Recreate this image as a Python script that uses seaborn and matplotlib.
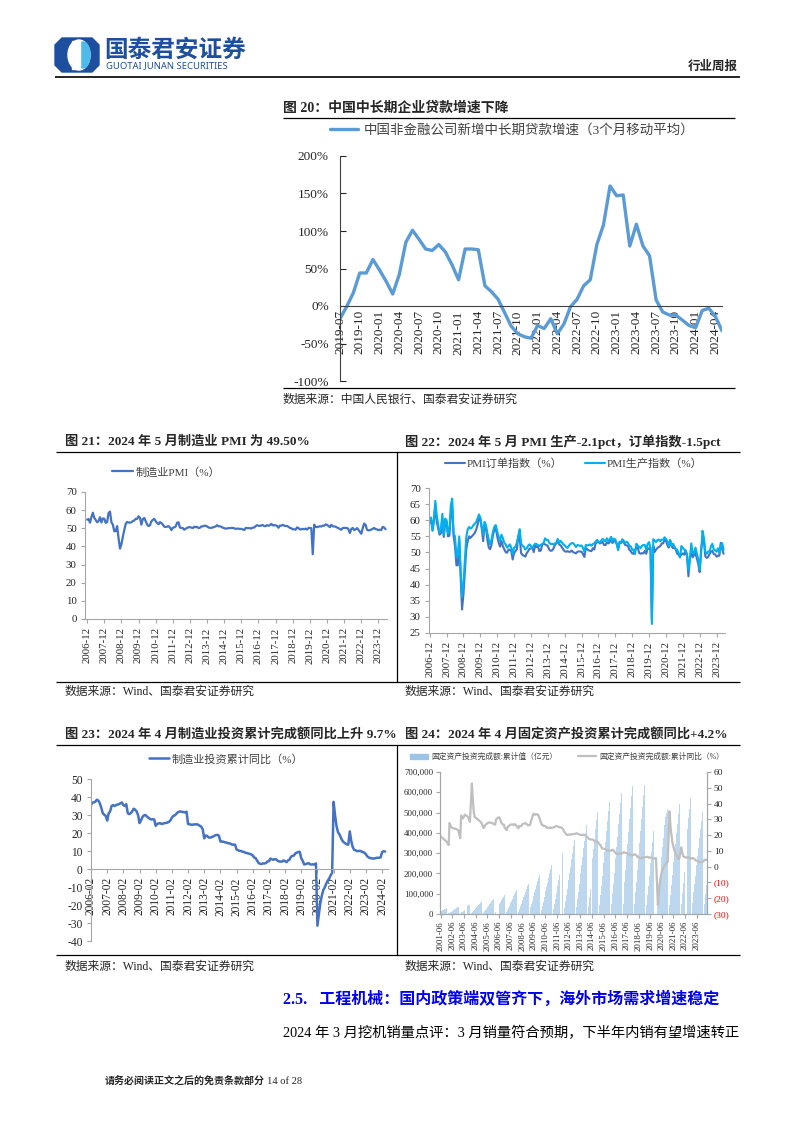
import numpy as np
import pandas as pd
import matplotlib
matplotlib.use('Agg')
import matplotlib.pyplot as plt
import matplotlib.patches as mpatches
from matplotlib.lines import Line2D
import seaborn as sns

sns.set_style('ticks')
plt.rcParams['font.family'] = ['Liberation Serif', 'Noto Sans CJK SC']
plt.rcParams['axes.unicode_minus'] = False

# ---- figure 20: medium/long term loan growth (3m moving avg), 2019-07 .. 2024-05
loan_months = [f'{y}-{m:02d}' for y in range(2019, 2025) for m in range(1, 13)][6:65]
loan_growth = [-17, -1, 17, 44, 44, 62, 48, 33, 16, 42, 85, 101, 89, 76, 74, 82, 72, 55,
               35, 76, 76, 75, 27, 19, 9, -9, -27, -37, -41, -43, -26, -30, -17, -37,
               -24, -1, 9, 27, 35, 82, 108, 160, 147, 148, 80, 109, 80, 67, 8, -8, -12,
               -12, -19, -26, -29, -6, -3, -14, -33]

# ---- figure 21/22: PMI, 2006-12 .. 2024-05
pmi_years = [f'{y}-12' for y in range(2006, 2024)]
pmi = [54.8,
       55.1, 53.1, 56.1, 58.6, 55.8, 54.5, 53.3, 54.0, 56.1, 53.2, 55.4, 55.3,
       53.0, 53.4, 58.4, 59.2, 53.3, 52.0, 48.4, 48.4, 51.2, 44.6, 38.8, 41.2,
       45.3, 49.0, 52.4, 53.5, 53.1, 53.2, 53.3, 54.0, 54.3, 55.2, 55.2, 56.6,
       55.8, 52.0, 55.1, 55.7, 53.9, 52.1, 51.2, 51.7, 53.8, 54.7, 55.2, 53.9,
       52.9, 52.2, 53.4, 52.9, 52.0, 50.9, 50.7, 50.9, 51.2, 50.4, 49.0, 50.3,
       50.5, 51.0, 53.1, 53.3, 50.4, 50.2, 50.1, 49.2, 49.8, 50.2, 50.6, 50.6,
       50.4, 50.1, 50.9, 50.6, 50.8, 50.1, 50.3, 51.0, 51.1, 51.4, 51.4, 51.0,
       50.5, 50.2, 50.3, 50.4, 50.8, 51.0, 51.7, 51.1, 51.1, 50.8, 50.3, 50.1,
       49.8, 49.9, 50.1, 50.1, 50.2, 50.2, 50.0, 49.7, 49.8, 49.8, 49.6, 49.7,
       49.4, 49.0, 50.2, 50.1, 50.1, 50.0, 49.9, 50.4, 50.4, 51.2, 51.7, 51.4,
       51.3, 51.6, 51.8, 51.2, 51.2, 51.7, 51.4, 51.7, 52.4, 51.6, 51.8, 51.6,
       51.3, 50.3, 51.5, 51.4, 51.9, 51.5, 51.2, 51.3, 50.8, 50.2, 50.0, 49.4,
       49.5, 49.2, 50.5, 50.1, 49.4, 49.4, 49.7, 49.5, 49.8, 49.3, 50.2, 50.2,
       50.0, 35.7, 52.0, 50.8, 50.6, 50.9, 51.1, 51.0, 51.5, 51.4, 52.1, 51.9,
       51.3, 50.6, 51.9, 51.1, 51.0, 50.9, 50.4, 50.1, 49.6, 49.2, 50.1, 50.3,
       50.1, 50.2, 49.5, 47.4, 49.6, 50.2, 49.0, 49.4, 50.1, 49.2, 48.0, 47.0,
       50.1, 52.6, 51.9, 49.2, 48.8, 49.0, 49.3, 49.7, 50.2, 49.5, 49.4, 49.0,
       49.2, 49.1, 50.8, 50.4, 49.5]
pmi_orders = [59.2,
              60.0, 56.8, 59.8, 64.5, 59.5, 57.5, 55.5, 56.0, 60.5, 54.8, 59.0, 59.5,
              55.0, 55.2, 62.0, 64.0, 55.0, 52.0, 46.0, 46.0, 54.0, 42.5, 32.3, 37.0,
              44.0, 51.0, 53.5, 55.0, 54.5, 55.0, 55.5, 56.0, 57.0, 58.5, 60.5, 60.5,
              57.5, 53.5, 58.5, 57.5, 54.0, 51.5, 51.0, 52.5, 55.5, 57.0, 57.5, 55.0,
              53.1, 51.8, 53.6, 52.0, 51.0, 50.1, 49.9, 50.9, 50.8, 50.5, 47.8, 49.8,
              50.4, 51.0, 55.1, 54.5, 49.8, 49.2, 49.0, 48.7, 49.8, 50.4, 51.2, 51.2,
              51.6, 50.1, 52.3, 51.7, 51.8, 50.4, 50.6, 52.4, 52.8, 52.5, 52.3, 52.0,
              50.9, 50.5, 50.6, 51.2, 52.3, 52.8, 53.6, 52.5, 52.2, 51.6, 50.9, 50.4,
              50.2, 50.4, 50.2, 50.2, 50.6, 50.1, 49.9, 49.7, 50.2, 50.3, 50.3, 50.2,
              49.5, 48.6, 51.4, 51.0, 50.7, 50.5, 50.4, 51.3, 50.9, 52.8, 53.2, 53.2,
              52.8, 53.0, 53.3, 52.3, 52.3, 53.1, 52.8, 53.1, 54.8, 52.9, 53.6, 53.4,
              52.6, 51.0, 53.3, 52.9, 53.8, 53.2, 52.3, 52.2, 52.0, 50.8, 50.4, 49.7,
              49.6, 50.6, 51.6, 51.4, 49.8, 49.6, 49.8, 49.7, 50.5, 49.6, 51.3, 51.2,
              51.4, 29.3, 52.0, 50.2, 50.9, 51.4, 51.7, 52.0, 52.8, 52.8, 53.9, 53.6,
              52.3, 51.5, 53.6, 52.0, 51.3, 51.5, 50.9, 49.6, 49.3, 48.8, 49.4, 49.7,
              49.3, 50.7, 48.8, 42.6, 48.2, 50.4, 48.5, 49.2, 49.8, 48.1, 46.4, 43.9,
              50.9, 54.1, 53.6, 48.8, 48.3, 48.6, 49.5, 50.2, 50.5, 49.5, 49.4, 48.7,
              49.0, 49.0, 53.0, 51.1, 49.6]
pmi_output = [60.7,
              60.8, 56.8, 60.5, 66.0, 61.5, 58.7, 56.0, 57.4, 62.0, 55.3, 60.5, 60.0,
              55.8, 56.8, 64.6, 66.7, 55.8, 55.0, 48.6, 49.0, 55.0, 44.4, 36.2, 40.3,
              47.5, 54.8, 57.1, 57.9, 57.4, 57.7, 58.4, 58.9, 59.4, 60.5, 61.8, 60.8,
              58.0, 55.5, 59.5, 58.5, 56.0, 54.0, 52.5, 54.0, 56.5, 58.0, 58.5, 56.5,
              55.0, 53.5, 55.5, 54.5, 53.0, 52.5, 51.5, 52.0, 52.5, 51.5, 49.5, 51.5,
              51.8, 53.0, 55.2, 57.2, 52.9, 52.0, 51.8, 50.9, 51.3, 52.1, 52.5, 52.0,
              51.3, 52.2, 52.7, 52.6, 52.3, 52.0, 52.4, 52.6, 52.9, 54.4, 53.9, 53.9,
              53.0, 52.6, 52.7, 52.5, 52.8, 53.0, 54.2, 52.8, 53.6, 53.1, 52.5, 52.2,
              51.7, 51.4, 52.1, 52.6, 52.9, 52.9, 52.4, 51.7, 52.3, 52.2, 52.0, 52.2,
              51.4, 50.2, 52.3, 52.2, 52.3, 52.5, 52.1, 52.6, 52.8, 53.3, 53.9, 53.3,
              53.1, 53.7, 54.2, 53.8, 53.4, 54.4, 53.5, 54.1, 54.7, 53.4, 54.3, 54.0,
              52.8, 50.7, 53.1, 53.1, 54.1, 53.6, 53.0, 53.3, 53.0, 52.0, 51.9, 50.8,
              50.9, 49.5, 52.7, 52.1, 51.7, 51.3, 52.1, 52.3, 52.3, 50.8, 52.6, 53.2,
              51.3, 27.8, 54.1, 53.7, 53.2, 53.9, 54.0, 53.5, 54.0, 53.9, 54.7, 54.2,
              53.5, 51.9, 53.9, 52.2, 52.7, 51.9, 51.0, 50.9, 49.5, 48.4, 52.0, 51.4,
              50.9, 50.4, 49.5, 44.4, 47.7, 52.8, 49.8, 49.8, 51.5, 49.6, 47.8, 44.6,
              49.8, 56.7, 54.6, 50.2, 49.6, 50.3, 50.2, 51.9, 52.7, 50.9, 50.7, 50.2,
              51.3, 49.8, 52.2, 52.9, 50.8]

# ---- figure 23: manufacturing investment, cumulative yoy, Feb..Dec each year, 2006-02 .. 2024-04
mfg_years = [f'{y}-02' for y in range(2006, 2025)]
mfg_inv = [35.5, 36.9, 37.0, 37.5, 38.5, 38.0, 36.5, 34.0, 31.0, 30.2, 29.5,
           26.9, 30.9, 32.0, 35.0, 35.5, 35.0, 35.5, 35.8, 36.0, 36.5, 37.0,
           35.5, 35.0, 36.0, 31.0, 30.5, 31.0, 32.0, 33.5, 33.0, 32.0, 30.0,
           25.5, 27.0, 28.9, 29.8, 30.0, 29.2, 28.5, 27.9, 27.5, 27.7, 27.5,
           24.0, 25.0, 25.3, 25.5, 25.0, 25.2, 25.5, 25.6, 25.8, 26.2, 27.0,
           28.5, 29.5, 29.8, 30.6, 31.5, 31.8, 32.0, 31.7, 31.6, 31.5, 31.8,
           25.0, 24.9, 24.6, 24.6, 24.8, 24.7, 24.9, 24.5, 24.0, 23.5, 22.0,
           17.0, 18.6, 18.4, 17.5, 17.4, 17.7, 18.0, 18.5, 18.8, 19.0, 18.5,
           15.3, 15.2, 15.2, 14.8, 14.8, 14.3, 14.3, 14.0, 13.5, 13.6, 13.5,
           10.8, 10.4, 10.1, 10.0, 9.6, 9.5, 9.0, 8.9, 8.6, 8.4, 8.1,
           7.5, 6.4, 6.0, 4.6, 3.3, 2.9, 2.8, 3.1, 3.1, 3.3, 4.2,
           4.3, 5.8, 5.4, 5.1, 5.5, 5.3, 4.5, 4.2, 4.1, 4.1, 4.8,
           4.3, 3.8, 4.8, 5.2, 6.8, 7.3, 7.5, 8.7, 9.1, 9.5, 9.5,
           5.9, 4.6, 2.5, 2.7, 3.0, 3.3, 2.6, 2.5, 2.6, 2.5, 3.1,
           -31.5, -25.2, -18.8, -14.8, -11.7, -10.2, -8.1, -6.5, -5.3, -3.5, -2.2,
           37.3, 29.8, 23.8, 20.4, 19.2, 17.3, 15.7, 14.8, 14.2, 13.7, 13.5,
           20.9, 15.6, 12.2, 10.6, 10.4, 9.9, 10.0, 10.1, 9.7, 9.3, 9.1,
           8.1, 7.0, 6.4, 6.0, 6.0, 5.7, 5.9, 6.2, 6.2, 6.3, 6.5,
           9.4, 9.9, 9.7]

# ---- figure 24: fixed asset investment, cumulative value (100m yuan) and yoy (%)
fai_value = [12900, 15400, 17900, 20700, 23200, 25800, 28000,
             2800, 6000, 8900, 12100, 16300, 19500, 22700, 26300, 29500, 32700, 35500,
             3700, 7800, 11500, 15600, 21100, 25200, 29300, 33900, 38000, 42100, 45800,
             4700, 10000, 14800, 20100, 27200, 32500, 37800, 43700, 49000, 54300, 59000,
             6000, 12800, 18800, 25500, 34500, 41300, 48100, 55600, 62300, 69100, 75100,
             7500, 15900, 23300, 31700, 42900, 51400, 59800, 69100, 77500, 85900, 93400,
             9400, 20000, 29400, 39900, 54000, 64600, 75200, 86900, 97500, 108100, 117500,
             11900, 25300, 37200, 50600, 68400, 81800, 95200, 110100, 123500, 136800, 148700,
             15500, 33000, 48500, 66000, 89300, 106800, 124200, 143700, 161100, 178600, 194100,
             19300, 41000, 60400, 82100, 111100, 132800, 154500, 178600, 200400, 222100, 241400,
             24200, 51300, 75500, 102700, 138900, 166100, 193200, 223400, 250600, 277800, 301900,
             29200, 62000, 91200, 124000, 167800, 200700, 233500, 270000, 302800, 335600, 364800,
             34900, 74200, 109100, 148400, 200800, 240100, 279400, 323000, 362300, 401600, 436500,
             40200, 85300, 125500, 170700, 230900, 276100, 321300, 371500, 416700, 461800, 502000,
             44100, 93800, 137900, 187500, 253700, 303400, 353000, 408200, 457800, 507500, 551600,
             47700, 101400, 149100, 202800, 274400, 328100, 381800, 441400, 495100, 548800, 596500,
             50500, 107400, 157900, 214800, 290600, 347400, 404300, 467400, 524300, 581100, 631700,
             50900, 108100, 158900, 216100, 292400, 349600, 406800, 470400, 527600, 584800, 635600,
             44100, 93800, 137900, 187500, 253700, 303300, 352900, 408100, 457700, 507400, 551500,
             33300, 84100, 136800, 199200, 281600, 329200, 375300, 436500, 479300, 499800, 518900,
             45200, 95900, 143500, 193900, 255900, 302800, 346900, 397800, 445100, 494100, 544500,
             50800, 104900, 153500, 206000, 271400, 320000, 367000, 421400, 471500, 520000, 572100,
             53600, 107000, 147500, 188800, 243100, 285900, 327000, 375000, 419400, 460800, 503000,
             50800, 100000, 143400]
fai_yoy = [19.0, 18.6, 18.0, 17.5, 17.0, 16.4, 15.8,
           13.7, 27.6, 26.0, 25.0, 24.5, 24.3, 24.2, 24.0, 23.8, 23.5, 23.0,
           18.0, 32.5, 31.0, 30.5, 32.0, 33.0, 32.5, 32.0, 31.5, 30.0, 28.4,
           52.7, 43.0, 34.5, 31.5, 31.0, 30.5, 30.0, 29.5, 29.0, 28.4, 27.6,
           24.5, 25.3, 26.5, 27.0, 27.5, 27.8, 28.0, 28.0, 27.8, 27.7, 27.2,
           26.6, 29.8, 30.5, 31.0, 31.3, 30.5, 28.4, 27.3, 26.8, 26.6, 24.5,
           23.2, 25.3, 25.5, 26.3, 26.7, 26.7, 26.7, 26.4, 26.9, 26.8, 25.8,
           24.3, 25.9, 25.7, 25.6, 26.8, 27.3, 27.4, 27.6, 27.2, 26.8, 26.1,
           26.5, 28.8, 30.5, 32.9, 33.6, 32.9, 33.0, 33.3, 33.1, 32.1, 30.5,
           26.6, 26.4, 25.8, 25.9, 25.5, 24.9, 24.8, 24.5, 24.4, 24.9, 24.5,
           24.9, 25.0, 25.4, 25.8, 25.6, 25.4, 25.0, 24.9, 24.9, 24.5, 23.8,
           21.5, 20.9, 20.2, 20.1, 20.4, 20.4, 20.2, 20.5, 20.7, 20.7, 20.6,
           21.2, 20.9, 20.6, 20.4, 20.1, 20.1, 20.3, 20.2, 20.1, 19.9, 19.6,
           17.9, 17.6, 17.3, 17.2, 17.3, 17.0, 16.5, 16.1, 15.9, 15.8, 15.7,
           13.9, 13.5, 12.0, 11.4, 11.4, 11.2, 10.9, 10.3, 10.2, 10.2, 10.0,
           10.2, 10.7, 10.5, 9.6, 9.0, 8.1, 8.1, 8.2, 8.3, 8.3, 8.1,
           8.9, 9.2, 8.9, 8.6, 8.6, 8.3, 7.8, 7.5, 7.3, 7.2, 7.2,
           7.9, 7.5, 7.0, 6.1, 6.0, 5.5, 5.3, 5.4, 5.7, 5.9, 5.9,
           6.1, 6.3, 6.1, 5.6, 5.8, 5.7, 5.5, 5.4, 5.2, 5.2, 5.4,
           -24.5, -16.1, -10.3, -6.3, -3.1, -1.6, -0.3, 0.8, 1.8, 2.6, 2.9,
           35.0, 25.6, 19.9, 15.4, 12.6, 10.3, 8.9, 7.3, 6.1, 5.2, 4.9,
           12.2, 9.3, 6.8, 6.2, 6.1, 5.7, 5.8, 5.9, 5.8, 5.3, 5.1,
           5.5, 5.1, 4.7, 4.0, 3.8, 3.4, 3.2, 3.1, 2.9, 2.9, 3.0,
           4.2, 4.5, 4.2]
fai_dates = ([pd.Timestamp(2001, m, 15) for m in range(6, 13)]
             + [pd.Timestamp(y, m, 15) for y in range(2002, 2024) for m in range(2, 13)]
             + [pd.Timestamp(2024, m, 15) for m in range(2, 5)])
fai_ticks = [pd.Timestamp(y, 6, 15) for y in range(2001, 2024)]

W, H = 794, 1123
GREY = '#A6A6A6'
TXT = '#262626'
fig = plt.figure(figsize=(W / 100, H / 100), dpi=100)

# page layer in pixel coordinates
page = fig.add_axes([0, 0, 1, 1])
page.set_xlim(0, W)
page.set_ylim(H, 0)
page.axis('off')


def box(l, t, r, b):
    return fig.add_axes([l / W, 1 - b / H, (r - l) / W, (b - t) / H])


def hline(y, x0, x1, lw=0.9):
    page.plot([x0, x1], [y, y], color='black', lw=lw, solid_capstyle='butt')


def put_legend(handles, labels, x, y, size, hl=2.0, sp=0.4, cs=2.0):
    fig.legend(handles, labels, loc='center', bbox_to_anchor=(x / W, 1 - y / H),
               frameon=False, fontsize=size, labelcolor='#404040', ncol=len(labels),
               handlelength=hl, handletextpad=sp, columnspacing=cs)


def style_spines(ax, color=GREY):
    for s in ['top', 'right']:
        ax.spines[s].set_visible(False)
    for s in ['left', 'bottom']:
        ax.spines[s].set_color(color)
        ax.spines[s].set_linewidth(0.8)


# ---------- header ----------
oct_pts = [(62, 38), (92, 38), (99, 45), (99, 65), (92, 72), (62, 72), (55, 65), (55, 45)]
page.add_patch(mpatches.Polygon(oct_pts, closed=True, color='#1d4f9e'))
page.add_patch(mpatches.Ellipse((79, 55), 22, 30, color='white'))
page.add_patch(mpatches.Ellipse((83, 55), 14, 26, color='#4cbbea'))
page.add_patch(mpatches.Rectangle((72, 41), 8, 28, color='white'))
page.text(104, 50, '国泰君安证券', fontsize=17, fontweight='bold', color='#1d4f9e',
          va='center', ha='left', family=['Noto Sans CJK SC'])
page.text(106, 66, 'GUOTAI JUNAN SECURITIES', fontsize=6.8, color='#1d4f9e',
          va='center', ha='left', family=['Noto Sans'])
page.text(738, 67, '行业周报', fontsize=9, fontweight='bold', ha='right', va='center')
hline(77, 55, 740, lw=1.2)

# ---------- figure 20 ----------
page.text(283, 108, '图 20：中国中长期企业贷款增速下降', fontsize=10, fontweight='bold',
          ha='left', va='center')
hline(118, 283, 735)
hline(388, 283, 735)
page.text(283, 400, '数据来源：中国人民银行、国泰君安证券研究', fontsize=8.5, ha='left',
          va='center', color=TXT)

ax1 = box(340, 156, 722, 381)
sns.lineplot(x=np.arange(len(loan_growth)), y=loan_growth, ax=ax1, color='#5B9BD5',
             linewidth=2.4, label='中国非金融公司新增中长期贷款增速（3个月移动平均）')
h, l = ax1.get_legend_handles_labels()
ax1.get_legend().remove()
put_legend(h, l, 512, 130, 9.7, hl=2.1)
ax1.set_xlim(0, len(loan_growth) - 1)
ax1.set_ylim(-100, 200)
for s in ['top', 'right']:
    ax1.spines[s].set_visible(False)
ax1.spines['bottom'].set_position(('data', 0))
ax1.spines['bottom'].set_color('#404040')
ax1.spines['left'].set_color('#404040')
ax1.set_yticks(range(-100, 201, 50))
ax1.set_yticklabels([f'{v}%' for v in range(-100, 201, 50)])
ax1.set_xticks(range(0, len(loan_growth), 3))
ax1.set_xticklabels(loan_months[::3], rotation=90)
ax1.tick_params(axis='y', direction='in', length=4, labelsize=9.5, pad=8)
ax1.tick_params(axis='x', length=0, labelsize=9.5, pad=3)
ax1.set_xlabel('')

# ---------- row 1: figure 21 / 22 ----------
page.text(65, 442, '图 21：2024 年 5 月制造业 PMI 为 49.50%', fontsize=9.5,
          fontweight='bold', ha='left', va='center')
page.text(405, 442, '图 22：2024 年 5 月 PMI 生产-2.1pct，订单指数-1.5pct', fontsize=9.5,
          fontweight='bold', ha='left', va='center')
hline(452, 56, 740)
hline(682, 56, 740)
page.plot([397, 397], [452, 682], color='black', lw=0.9)
page.text(65, 692, '数据来源：Wind、国泰君安证券研究', fontsize=8.5, ha='left', va='center', color=TXT)
page.text(405, 692, '数据来源：Wind、国泰君安证券研究', fontsize=8.5, ha='left', va='center', color=TXT)

x_pmi = np.arange(len(pmi))
ax2 = box(85, 492, 387, 619)
sns.lineplot(x=x_pmi, y=pmi, ax=ax2, color='#4472C4', linewidth=1.6, label='制造业PMI（%）')
h, l = ax2.get_legend_handles_labels()
ax2.get_legend().remove()
put_legend(h, l, 166, 472, 8, hl=1.9, sp=0.25)
ax2.set_xlim(-1.5, len(pmi))
ax2.set_ylim(0, 70)
ax2.set_yticks(range(0, 71, 10))
ax2.set_xticks(range(0, len(pmi), 12))
ax2.set_xticklabels(pmi_years, rotation=90)
style_spines(ax2)
ax2.tick_params(axis='both', length=3, color=GREY, labelsize=7.8, labelcolor=TXT, pad=3)

ax3 = box(429, 488, 725, 633)
sns.lineplot(x=x_pmi, y=pmi_orders, ax=ax3, color='#4472C4', linewidth=1.5, label='PMI订单指数（%）')
sns.lineplot(x=x_pmi, y=pmi_output, ax=ax3, color='#00B0F0', linewidth=1.5, label='PMI生产指数（%）')
h, l = ax3.get_legend_handles_labels()
ax3.get_legend().remove()
put_legend(h, l, 574, 464, 8, hl=1.8, sp=0.15, cs=2.0)
ax3.set_xlim(-0.5, len(pmi))
ax3.set_ylim(25, 70)
ax3.set_yticks(range(25, 71, 5))
ax3.set_xticks(range(0, len(pmi), 12))
ax3.set_xticklabels(pmi_years, rotation=90)
style_spines(ax3)
ax3.tick_params(axis='both', length=3, color=GREY, labelsize=7.8, labelcolor=TXT, pad=3)

# ---------- row 2: figure 23 / 24 ----------
page.text(65, 735, '图 23：2024 年 4 月制造业投资累计完成额同比上升 9.7%', fontsize=9.5,
          fontweight='bold', ha='left', va='center')
page.text(405, 735, '图 24：2024 年 4 月固定资产投资累计完成额同比+4.2%', fontsize=9.5,
          fontweight='bold', ha='left', va='center')
hline(745, 56, 740)
hline(955, 56, 740)
page.plot([397, 397], [745, 955], color='black', lw=0.9)
page.text(65, 967, '数据来源：Wind、国泰君安证券研究', fontsize=8.5, ha='left', va='center', color=TXT)
page.text(405, 967, '数据来源：Wind、国泰君安证券研究', fontsize=8.5, ha='left', va='center', color=TXT)

ax4 = box(91, 779, 388, 941)
sns.lineplot(x=np.arange(len(mfg_inv)), y=mfg_inv, ax=ax4, color='#4472C4', linewidth=1.8,
             label='制造业投资累计同比（%）')
h, l = ax4.get_legend_handles_labels()
ax4.get_legend().remove()
put_legend(h, l, 226, 759, 8, hl=1.8, sp=0.3)
style_spines(ax4)
ax4.spines['bottom'].set_position(('data', 0))
ax4.set_xlim(0, len(mfg_inv) + 1)
ax4.set_ylim(-40, 50)
ax4.set_yticks(range(-40, 51, 10))
ax4.set_xticks(range(0, len(mfg_inv), 11))
ax4.set_xticklabels(mfg_years, rotation=90)
ax4.tick_params(axis='both', length=3, color=GREY, labelsize=8.3, labelcolor=TXT, pad=3)

ax5 = box(440, 772, 707, 914)
ax5.bar(fai_dates, fai_value, width=29, color='#BDD7EE', linewidth=0, zorder=1)
ax5r = ax5.twinx()
sns.lineplot(x=fai_dates, y=fai_yoy, ax=ax5r, color='#BFBFBF', linewidth=1.6,
             label='固定资产投资完成额:累计同比（%）')
ax5r.get_legend().remove()
bar_handle = mpatches.Patch(color='#9DC3E6')
line_handle = Line2D([], [], color='#BFBFBF', linewidth=1.6)
put_legend([bar_handle, line_handle],
           ['固定资产投资完成额:累计值（亿元）', '固定资产投资完成额:累计同比（%）'],
           567, 757, 5.6, hl=2.4, cs=2.6)
ax5.set_xlim(pd.Timestamp(2001, 5, 20), pd.Timestamp(2024, 5, 5))
ax5.set_ylim(0, 700000)
ax5.set_yticks(range(0, 700001, 100000))
ax5.set_yticklabels([f'{v:,}' for v in range(0, 700001, 100000)])
ax5r.set_ylim(-30, 60)
right_ticks = list(range(-30, 61, 10))
ax5r.set_yticks(right_ticks)
ax5r.set_yticklabels([f'({-v})' if v < 0 else f'{v}' for v in right_ticks])
for lbl, v in zip(ax5r.get_yticklabels(), right_ticks):
    lbl.set_color('#FF0000' if v < 0 else TXT)
ax5.set_xticks(fai_ticks)
ax5.set_xticklabels([d.strftime('%Y-%m') for d in fai_ticks], rotation=90)
for s in ['top']:
    ax5.spines[s].set_visible(False)
    ax5r.spines[s].set_visible(False)
for a in [ax5, ax5r]:
    for s in ['left', 'bottom', 'right']:
        a.spines[s].set_color(GREY)
        a.spines[s].set_linewidth(0.8)
ax5.tick_params(axis='both', length=3, color=GREY, labelsize=6.3, labelcolor=TXT, pad=2)
ax5r.tick_params(axis='y', length=3, color=GREY, labelsize=6.8, pad=2)
ax5r.set_ylabel('')

# ---------- body text ----------
page.text(283, 1000, '2.5.   工程机械：国内政策端双管齐下，海外市场需求增速稳定', fontsize=11.5,
          fontweight='bold', color='#0000EE', ha='left', va='center')
page.text(283, 1033, '2024 年 3 月挖机销量点评：3 月销量符合预期，下半年内销有望增速转正',
          fontsize=10.3, ha='left', va='center', color='black')
page.text(105, 1082, '请务必阅读正文之后的免责条款部分', fontsize=7.2, fontweight='bold',
          ha='left', va='center')
page.text(267, 1082, '14 of 28', fontsize=7.6, ha='left', va='center')

fig.savefig('out.png', dpi=100)
